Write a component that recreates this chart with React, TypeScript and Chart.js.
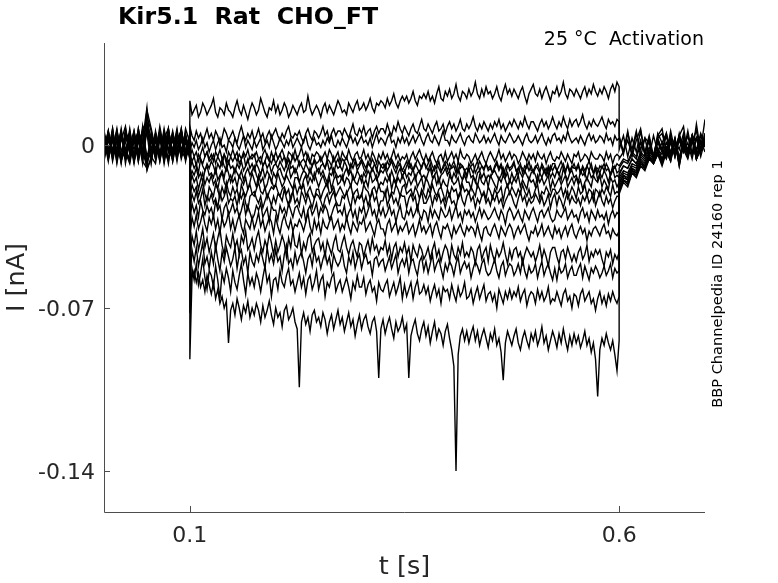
import { useEffect, useRef } from 'react'
import { Chart, registerables } from 'chart.js'

Chart.register(...registerables)

const FONT = '"DejaVu Sans", sans-serif'
const INK = '#000000'
const AXIS = '#4d4d4d'
const LABEL = '#262626'

const TITLE = 'Kir5.1  Rat  CHO_FT'
const CONDITION = '25 °C  Activation'
const SOURCE = 'BBP Channelpedia ID 24160 rep 1'

// sample clock of the traces: 5 ms outside the step, 2.5 ms during the step (0.1 s .. 0.6 s)
const DT_OUT = 0.005
const DT_STEP = 0.0025
const T_ON = 0.1
const T_OFF = 0.6
const PRE_N = 21
const STEP_N = 201
const POST_N = 21

const X_MIN = 0
const X_MAX = 0.7
const Y_MIN = -0.1576
const Y_MAX = 0.0438
const X_TICKS = [0.1, 0.6]
const X_TICK_LABELS = ['0.1', '0.6']
const Y_TICKS = [-0.14, -0.07, 0]
const Y_TICK_LABELS = ['-0.14', '-0.07', '0']

// currents in pA: 21 samples before, 201 during, 21 after the step
const I_01 = [
  5, -3, 7, -6, 2, 8, -4, 3, -7, 6, 9, -2, 5, -6, 3, 7, -5, 2, 6, -3, 4,
  19, 13, 15, 17, 12, 14, 18, 16, 13, 15,
  17, 20, 14, 12, 16, 15, 13, 18, 15, 14,
  12, 16, 19, 15, 13, 17, 14, 11, 15, 18,
  16, 13, 15, 20, 17, 14, 12, 16, 15, 19,
  14, 17, 13, 15, 18, 16, 12, 14, 17, 15,
  13, 16, 18, 14, 15, 21, 16, 13, 15, 17,
  15, 12, 16, 18, 14, 17, 15, 13, 16, 19,
  17, 14, 15, 13, 18, 16, 14, 17, 19, 15,
  16, 18, 15, 17, 20, 16, 14, 18, 17, 19,
  18, 16, 20, 17, 19, 22, 18, 16, 19, 21,
  19, 21, 18, 20, 23, 19, 17, 21, 20, 22,
  20, 23, 19, 21, 18, 22, 25, 20, 19, 23,
  21, 24, 20, 22, 26, 21, 19, 23, 22, 20,
  24, 21, 23, 27, 22, 20, 24, 21, 25, 22,
  23, 20, 22, 25, 21, 19, 23, 26, 22, 24,
  21, 24, 22, 20, 23, 25, 21, 18, 22, 24,
  26, 22, 21, 24, 20, 23, 25, 22, 19, 23,
  22, 25, 21, 23, 27, 22, 20, 24, 23, 21,
  24, 22, 20, 23, 25, 21, 24, 22, 26, 23,
  21, 24, 22, 25, 23, 20, 24, 26, 23, 27,
  25,
  4, -3, 6, -5, 2, 7, -4, 3, -6, 5, 1, -4, 6, -3, 4, 8, -5, 2, 6, -3, 5,
]
const I_02 = [
  -2, 6, -5, 3, -8, 5, 1, -6, 7, -3, 12, 6, -4, 8, -2, -7, 5, -3, 6, -5, 2,
  8, 4, 2, 6, 3, 5, 1, 4, 7, 3,
  5, 2, 6, 4, 0, 3, 7, 5, 2, 4,
  6, 3, 1, 5, 8, 4, 2, 5, 3, 6,
  2, 4, 7, 3, 5, 1, 4, 6, 3, 5,
  7, 4, 2, 5, 3, 6, 8, 4, 3, 5,
  4, 6, 3, 1, 5, 7, 4, 2, 6, 5,
  3, 5, 8, 4, 6, 2, 5, 7, 4, 6,
  6, 4, 7, 5, 3, 6, 9, 5, 4, 7,
  5, 8, 4, 6, 7, 3, 6, 8, 5, 7,
  7, 5, 9, 6, 4, 8, 6, 10, 7, 5,
  8, 6, 4, 7, 9, 6, 5, 8, 11, 7,
  6, 9, 7, 5, 8, 10, 6, 7, 9, 5,
  8, 10, 7, 9, 6, 8, 11, 7, 6, 9,
  7, 9, 12, 8, 6, 9, 7, 10, 8, 6,
  9, 7, 10, 8, 11, 7, 9, 6, 8, 10,
  8, 11, 9, 7, 10, 8, 12, 9, 7, 10,
  10, 8, 6, 9, 11, 8, 10, 7, 9, 12,
  9, 7, 10, 8, 12, 9, 7, 11, 8, 10,
  11, 8, 10, 13, 9, 7, 10, 8, 11, 9,
  8, 10, 12, 9, 7, 11, 9, 10, 8, 11,
  10,
  3, -4, 5, -2, 6, -5, 3, 1, -6, 4, 7, -3, 2, -5, 5, -2, 4, -4, 9, -3, 3,
]
const I_03 = [
  3, -6, 2, -4, 7, -5, 0, 6, -7, 2, -9, 3, -5, 5, -8, 3, -2, 7, -6, 1, -3,
  -3, 1, -1, 2, -2, 0, 3, -1, 1, -3,
  0, 2, -2, 1, 3, -1, 0, -3, 2, 1,
  -1, 3, 0, -2, 1, 4, -1, 2, 0, -2,
  2, -1, 1, 3, -2, 0, 2, -1, 4, 1,
  -2, 0, 3, 1, -1, 2, 0, 3, -1, 1,
  3, 1, -1, 2, 4, 0, -2, 1, 3, 0,
  1, -1, 2, 0, 3, 1, 4, 0, -1, 2,
  0, 3, 1, -1, 2, 4, 1, 3, 0, 2,
  4, 1, 2, 0, 3, -1, 2, 5, 1, 3,
  2, 0, 3, 5, 1, 2, -1, 3, 1, 4,
  1, 3, 0, 2, 4, 1, 3, 5, 2, 0,
  3, 5, 2, 1, 4, 2, 0, 3, 6, 2,
  2, 0, 4, 2, 1, 3, 5, 2, 0, 3,
  4, 2, 1, 5, 3, 1, 2, 4, 1, 3,
  1, 3, 5, 2, 0, 4, 2, 1, 3, 5,
  3, 1, 2, 4, 2, 0, 3, 5, 2, 1,
  2, 4, 1, 3, 5, 2, 0, 3, 1, 4,
  5, 2, 3, 1, 4, 2, 6, 3, 1, 2,
  3, 1, 4, 2, 0, 3, 5, 2, 4, 1,
  2, 4, 3, 1, 5, 2, 3, 0, 4, 2,
  3,
  -2, 4, -5, 3, -3, 6, -4, 2, -6, 3, 5, -2, 4, -5, 2, -3, 6, -4, 3, -2, 11,
]
const I_04 = [
  -4, 5, -7, 2, -2, -6, 6, -5, 3, -8, 7, -3, 2, -7, 5, -2, -6, 4, -5, 7, 1,
  -6, -2, -5, -3, -7, -4, -1, -5, -3, -6,
  -4, -7, -3, -5, -2, -6, -4, -8, -3, -5,
  -2, -5, -7, -4, -6, -3, -5, -2, -6, -4,
  -5, -3, -6, -8, -4, -2, -5, -7, -3, -6,
  -3, -6, -4, -2, -5, -7, -3, -4, -6, -2,
  -6, -4, -1, -5, -3, -6, -8, -4, -5, -3,
  -4, -7, -5, -3, -6, -2, -4, -7, -5, -3,
  -7, -3, -5, -6, -2, -5, -7, -4, -3, -6,
  -5, -2, -6, -4, -7, -3, -5, -8, -4, -6,
  -3, -6, -4, -7, -5, -2, -6, -4, -7, -5,
  -6, -4, -8, -5, -3, -6, -4, -2, -5, -7,
  -4, -7, -5, -3, -6, -8, -5, -4, -7, -3,
  -7, -5, -3, -6, -4, -7, -2, -5, -6, -4,
  -5, -8, -6, -4, -7, -5, -3, -6, -8, -5,
  -3, -5, -7, -5, -2, -6, -4, -7, -5, -3,
  -6, -4, -5, -8, -6, -3, -5, -7, -4, -6,
  -4, -7, -3, -5, -6, -4, -8, -5, -3, -6,
  -7, -5, -6, -3, -5, -7, -4, -6, -8, -4,
  -5, -3, -7, -6, -4, -5, -7, -3, -5, -6,
  -6, -4, -5, -7, -3, -6, -4, -8, -5, -4,
  -5,
  -6, -3, 2, -4, 5, -2, 3, -5, 4, -3, 1, 5, -4, 2, -6, 3, -2, 4, -5, 2, -3,
]
const I_05 = [
  2, -5, 6, -8, 3, -2, -7, 5, -3, 6, -11, -5, 3, -6, 2, -8, 5, -3, 7, -5, -2,
  -11, -7, -10, -8, -12, -6, -9, -11, -8, -10,
  -7, -9, -12, -8, -10, -6, -9, -11, -7, -10,
  -9, -12, -8, -10, -7, -11, -9, -6, -10, -8,
  -11, -8, -10, -13, -9, -7, -10, -8, -12, -9,
  -8, -10, -7, -9, -11, -8, -6, -10, -9, -12,
  -10, -7, -9, -11, -8, -10, -12, -9, -7, -10,
  -12, -9, -8, -10, -7, -11, -9, -13, -8, -10,
  -9, -11, -7, -9, -12, -8, -10, -7, -11, -9,
  -7, -10, -12, -8, -9, -11, -8, -10, -13, -9,
  -10, -8, -11, -9, -7, -10, -12, -9, -8, -11,
  -12, -9, -7, -10, -11, -8, -10, -12, -9, -7,
  -9, -11, -8, -12, -9, -10, -7, -11, -10, -8,
  -11, -8, -10, -9, -12, -7, -10, -9, -11, -13,
  -8, -10, -12, -9, -7, -11, -9, -10, -8, -11,
  -10, -12, -9, -7, -10, -8, -11, -13, -9, -10,
  -9, -7, -11, -10, -8, -12, -9, -10, -7, -11,
  -11, -9, -10, -12, -8, -10, -13, -9, -11, -8,
  -8, -11, -9, -7, -10, -12, -8, -11, -9, -10,
  -10, -8, -12, -9, -11, -9, -7, -10, -12, -9,
  -12, -9, -10, -8, -11, -10, -13, -9, -10, -8,
  -9,
  -9, -6, -7, -3, -5, 2, -4, 3, -6, 1, -3, 4, -5, 2, -2, 5, -4, 1, 3, -5, 2,
]
const I_06 = [
  -5, 3, -2, 7, -6, 1, 5, -7, 2, -4, 8, -5, -8, 3, -2, 6, -7, 2, -5, 4, -6,
  -15, -11, -13, -10, -14, -12, -16, -11, -9, -13,
  -12, -14, -10, -15, -13, -11, -14, -9, -12, -16,
  -13, -10, -12, -14, -11, -15, -12, -10, -13, -11,
  -9, -13, -15, -12, -10, -14, -11, -13, -16, -12,
  -14, -11, -10, -13, -15, -12, -9, -14, -12, -10,
  -12, -16, -13, -11, -12, -14, -10, -13, -15, -11,
  -10, -13, -11, -14, -16, -12, -13, -10, -12, -14,
  -13, -15, -12, -10, -13, -11, -15, -14, -11, -13,
  -16, -12, -14, -11, -13, -10, -12, -15, -13, -11,
  -12, -10, -13, -15, -11, -14, -16, -12, -10, -14,
  -11, -14, -12, -13, -10, -15, -12, -11, -14, -13,
  -15, -12, -10, -14, -13, -11, -16, -13, -12, -10,
  -13, -11, -15, -12, -14, -10, -13, -15, -11, -14,
  -10, -14, -13, -16, -12, -11, -14, -12, -15, -13,
  -14, -12, -11, -13, -15, -13, -10, -14, -12, -16,
  -12, -15, -13, -10, -12, -14, -11, -13, -15, -12,
  -11, -13, -16, -12, -14, -11, -13, -10, -14, -12,
  -14, -11, -12, -15, -10, -13, -15, -12, -11, -14,
  -13, -16, -11, -13, -12, -15, -11, -14, -13, -10,
  -15, -12, -14, -11, -13, -16, -12, -10, -14, -13,
  -14,
  -12, -9, -10, -6, -8, -4, -6, -2, -5, 2, -3, -6, 1, -4, 3, -2, -6, 2, -3, 4, -1,
]
const I_07 = [
  6, -2, 4, -6, 5, -3, -8, 2, -5, 7, 10, 3, -4, 6, -5, 2, -7, 5, -2, -6, 3,
  -18, -13, -16, -14, -19, -15, -12, -17, -14, -16,
  -13, -17, -15, -19, -14, -12, -16, -18, -15, -13,
  -16, -14, -18, -13, -15, -17, -14, -19, -16, -12,
  -15, -18, -13, -16, -14, -19, -17, -13, -15, -18,
  -17, -12, -15, -18, -16, -13, -15, -17, -19, -14,
  -14, -16, -19, -15, -13, -17, -14, -16, -12, -15,
  -18, -15, -13, -16, -18, -14, -19, -15, -13, -17,
  -16, -13, -17, -14, -15, -18, -13, -16, -17, -14,
  -13, -17, -15, -18, -12, -16, -15, -13, -18, -16,
  -17, -14, -16, -13, -19, -15, -17, -14, -16, -13,
  -15, -18, -14, -17, -15, -13, -18, -16, -14, -19,
  -14, -16, -19, -15, -13, -17, -14, -18, -15, -17,
  -18, -13, -15, -17, -16, -14, -19, -15, -13, -16,
  -16, -19, -14, -15, -18, -13, -16, -17, -14, -18,
  -13, -15, -17, -19, -14, -16, -13, -15, -18, -15,
  -17, -14, -16, -13, -18, -15, -17, -19, -14, -16,
  -15, -18, -13, -16, -14, -17, -15, -13, -19, -15,
  -18, -16, -14, -17, -15, -13, -18, -16, -14, -17,
  -14, -17, -15, -19, -16, -14, -16, -18, -13, -15,
  -16, -13, -18, -15, -17, -19, -14, -16, -15, -18,
  -16,
  -13, -9, -10, -6, -8, -3, -5, -1, -4, 3, -2, -5, 2, -3, 4, -1, -5, 3, -2, 5, 0,
]
const I_08 = [
  -6, 2, -4, 6, -7, 3, 1, -5, 7, -2, -10, 5, -6, 2, -3, 7, -5, 1, 6, -7, 2,
  -23, -17, -20, -18, -22, -19, -16, -21, -24, -18,
  -20, -22, -17, -19, -23, -18, -21, -16, -20, -22,
  -18, -21, -19, -24, -17, -20, -22, -19, -17, -21,
  -22, -19, -16, -20, -21, -18, -23, -20, -18, -19,
  -17, -20, -22, -19, -18, -21, -19, -24, -20, -17,
  -21, -18, -19, -17, -22, -20, -18, -21, -23, -19,
  -19, -23, -20, -18, -16, -21, -20, -18, -22, -20,
  -18, -20, -22, -21, -19, -17, -22, -20, -19, -23,
  -22, -17, -19, -20, -23, -19, -18, -21, -17, -20,
  -20, -22, -18, -23, -20, -21, -17, -19, -22, -18,
  -17, -21, -20, -19, -22, -18, -20, -23, -19, -21,
  -23, -19, -21, -17, -20, -22, -19, -18, -21, -24,
  -19, -22, -18, -20, -19, -23, -21, -17, -20, -19,
  -21, -18, -20, -22, -17, -19, -22, -20, -23, -18,
  -20, -23, -19, -21, -20, -18, -24, -19, -17, -21,
  -18, -20, -22, -19, -21, -17, -20, -22, -19, -23,
  -22, -19, -17, -23, -20, -21, -18, -20, -22, -19,
  -19, -21, -20, -18, -22, -19, -23, -21, -18, -20,
  -23, -18, -21, -20, -17, -22, -19, -20, -24, -19,
  -20, -22, -19, -21, -18, -20, -22, -17, -21, -20,
  -21,
  -14, -11, -12, -8, -9, -5, -7, -3, -5, -1, -6, -2, 2, -5, 4, -3, 1, -6, 3, -2, 5,
]
const I_09 = [
  3, -7, 5, -2, 6, -5, 2, -8, 4, -3, 15, 7, -2, 5, -6, 3, -4, 6, -5, 2, -6,
  -27, -21, -24, -20, -25, -23, -19, -26, -22, -24,
  -21, -25, -23, -27, -20, -24, -22, -19, -25, -23,
  -24, -22, -26, -21, -23, -20, -25, -28, -22, -21,
  -20, -23, -25, -22, -27, -24, -21, -23, -26, -22,
  -25, -21, -22, -24, -19, -23, -26, -22, -20, -25,
  -23, -26, -20, -22, -25, -21, -24, -27, -23, -21,
  -22, -24, -27, -23, -21, -25, -22, -20, -24, -26,
  -26, -22, -23, -20, -24, -27, -21, -25, -22, -23,
  -21, -25, -22, -26, -23, -20, -24, -22, -27, -24,
  -24, -20, -26, -23, -21, -25, -23, -26, -21, -22,
  -22, -27, -23, -21, -24, -22, -28, -23, -20, -25,
  -25, -23, -21, -26, -22, -24, -21, -25, -23, -27,
  -23, -21, -25, -24, -27, -22, -20, -24, -26, -22,
  -20, -24, -22, -27, -23, -25, -22, -21, -25, -23,
  -26, -22, -24, -21, -25, -23, -27, -24, -22, -20,
  -22, -25, -27, -23, -20, -24, -22, -26, -23, -25,
  -24, -21, -23, -25, -22, -26, -24, -21, -27, -23,
  -21, -26, -22, -24, -27, -23, -20, -25, -22, -24,
  -25, -23, -26, -22, -24, -21, -25, -23, -20, -26,
  -23, -20, -24, -26, -22, -25, -23, -27, -24, -22,
  -22,
  -15, -12, -13, -9, -10, -6, -8, -4, -6, -2, -4, 1, -3, 3, -6, 2, -2, 4, -5, 1, 3,
]
const I_10 = [
  -5, 6, -3, 2, -7, 5, -2, 4, -6, 8, -7, -3, 5, -7, 3, -2, 6, -5, 2, -4, 5,
  -33, -25, -29, -26, -31, -24, -28, -30, -26, -29,
  -27, -31, -24, -28, -26, -32, -27, -25, -30, -28,
  -25, -29, -27, -31, -28, -24, -30, -26, -29, -32,
  -30, -26, -28, -25, -31, -29, -27, -33, -26, -28,
  -28, -32, -26, -29, -27, -30, -25, -28, -31, -27,
  -26, -29, -31, -27, -33, -28, -26, -30, -28, -25,
  -31, -27, -29, -26, -28, -32, -30, -27, -25, -29,
  -28, -30, -26, -32, -29, -27, -31, -28, -33, -27,
  -29, -26, -31, -28, -25, -30, -28, -32, -27, -30,
  -27, -31, -29, -26, -30, -28, -33, -29, -26, -31,
  -32, -28, -30, -27, -31, -29, -26, -30, -32, -28,
  -29, -33, -27, -31, -28, -30, -32, -27, -29, -31,
  -30, -27, -32, -29, -26, -31, -29, -33, -28, -30,
  -28, -31, -29, -33, -30, -27, -31, -28, -30, -32,
  -31, -29, -27, -30, -32, -28, -30, -34, -29, -27,
  -29, -32, -30, -28, -31, -33, -28, -30, -32, -29,
  -27, -30, -33, -29, -28, -31, -29, -27, -31, -33,
  -32, -28, -30, -31, -29, -27, -32, -30, -28, -31,
  -30, -33, -29, -27, -31, -29, -33, -28, -30, -32,
  -28, -31, -30, -32, -29, -34, -30, -28, -31, -29,
  -30,
  -16, -13, -14, -10, -11, -7, -9, -5, -7, -3, -6, -1, -4, 2, -7, 1, -3, 3, -6, -1, 2,
]
const I_11 = [
  2, -4, 7, -6, 3, -2, 5, -7, 1, 6, -5, 2, -6, 4, -3, 7, -5, 2, -2, 5, -5,
  -40, -31, -35, -30, -36, -33, -29, -34, -37, -31,
  -34, -30, -36, -32, -38, -31, -35, -33, -29, -36,
  -32, -37, -33, -30, -35, -38, -32, -34, -36, -31,
  -36, -33, -29, -35, -32, -37, -34, -31, -33, -38,
  -31, -35, -38, -33, -30, -34, -36, -32, -37, -34,
  -35, -32, -34, -37, -33, -29, -35, -38, -32, -36,
  -33, -38, -32, -35, -36, -33, -31, -36, -34, -32,
  -37, -34, -36, -31, -35, -38, -33, -35, -37, -33,
  -34, -31, -37, -35, -33, -36, -39, -34, -32, -36,
  -36, -39, -34, -32, -37, -35, -33, -38, -35, -37,
  -35, -33, -38, -36, -34, -39, -36, -32, -37, -35,
  -38, -36, -34, -39, -35, -33, -37, -40, -35, -36,
  -34, -37, -40, -35, -38, -36, -34, -37, -39, -35,
  -37, -35, -36, -39, -34, -38, -41, -36, -35, -38,
  -39, -36, -34, -37, -40, -35, -37, -39, -36, -34,
  -36, -40, -37, -35, -38, -36, -34, -38, -41, -37,
  -38, -35, -39, -37, -34, -39, -37, -35, -38, -40,
  -35, -38, -36, -40, -37, -35, -39, -36, -34, -38,
  -40, -37, -35, -38, -36, -41, -37, -39, -36, -35,
  -37, -39, -36, -34, -38, -37, -40, -36, -38, -39,
  -37,
  -17, -13, -15, -10, -12, -7, -9, -5, -8, -3, -7, -2, -5, 1, -8, 2, -3, 3, -6, -1, 3,
]
const I_12 = [
  -2, 5, -6, 3, -5, 7, -3, 1, 6, -7, -10, -6, 2, -5, 6, -3, 4, -7, 5, -2, 1,
  -50, -39, -43, -37, -45, -41, -36, -44, -40, -46,
  -42, -38, -45, -40, -36, -43, -47, -39, -42, -44,
  -38, -44, -41, -47, -39, -42, -37, -45, -43, -40,
  -45, -40, -37, -43, -46, -41, -44, -38, -42, -47,
  -41, -46, -43, -39, -42, -48, -40, -44, -37, -43,
  -44, -39, -47, -42, -45, -40, -38, -46, -43, -41,
  -40, -45, -42, -48, -41, -44, -47, -42, -39, -45,
  -46, -42, -39, -44, -47, -43, -41, -45, -48, -42,
  -43, -48, -44, -41, -46, -40, -45, -43, -47, -44,
  -45, -41, -47, -43, -49, -44, -42, -48, -44, -46,
  -42, -47, -44, -50, -43, -46, -48, -43, -45, -49,
  -47, -44, -49, -45, -42, -48, -45, -50, -46, -43,
  -45, -50, -43, -47, -49, -44, -47, -42, -48, -46,
  -48, -44, -46, -51, -45, -43, -49, -46, -44, -50,
  -43, -47, -50, -45, -48, -46, -42, -47, -51, -45,
  -49, -45, -44, -48, -46, -51, -47, -44, -46, -48,
  -46, -50, -47, -43, -49, -45, -48, -52, -46, -44,
  -44, -48, -51, -46, -45, -49, -44, -47, -50, -47,
  -50, -46, -44, -49, -47, -43, -50, -46, -48, -45,
  -47, -45, -49, -52, -46, -48, -45, -51, -47, -49,
  -46,
  -18, -14, -15, -11, -12, -8, -9, -5, -7, -3, -7, -1, -6, 2, -8, 1, -4, 4, -6, -1, 2,
]
const I_13 = [
  5, -6, 2, -3, 6, -8, 3, -2, 5, -5, 7, 2, -5, 3, -7, 5, -3, 1, 6, -6, 2,
  -60, -45, -50, -44, -52, -47, -42, -51, -48, -53,
  -46, -51, -43, -49, -54, -46, -50, -44, -48, -52,
  -49, -44, -53, -47, -45, -51, -48, -55, -46, -50,
  -52, -47, -50, -45, -49, -53, -44, -50, -47, -51,
  -45, -50, -48, -54, -47, -43, -51, -49, -53, -46,
  -51, -48, -46, -50, -55, -49, -47, -52, -45, -50,
  -48, -53, -49, -46, -51, -48, -54, -47, -50, -52,
  -50, -46, -52, -55, -48, -51, -46, -53, -49, -47,
  -53, -49, -47, -51, -50, -56, -49, -48, -52, -50,
  -49, -54, -51, -48, -53, -50, -47, -55, -51, -49,
  -52, -48, -55, -50, -49, -53, -56, -50, -48, -54,
  -50, -55, -51, -47, -54, -51, -49, -53, -57, -51,
  -54, -50, -52, -56, -51, -48, -55, -52, -50, -53,
  -51, -57, -53, -50, -52, -55, -51, -49, -54, -56,
  -55, -52, -49, -54, -57, -52, -50, -56, -53, -51,
  -52, -56, -54, -51, -55, -49, -54, -57, -52, -55,
  -54, -51, -57, -53, -50, -56, -53, -51, -55, -58,
  -53, -58, -52, -55, -54, -51, -57, -54, -52, -56,
  -56, -53, -51, -57, -52, -55, -58, -53, -55, -52,
  -54, -57, -55, -52, -56, -54, -51, -57, -53, -55,
  -54,
  -19, -15, -16, -11, -13, -8, -10, -5, -8, -3, -8, -2, -6, 2, -7, 1, -3, 4, -5, -2, 2,
]
const I_14 = [
  -3, 6, -5, 2, -7, 3, 5, -6, 2, -3, -8, 3, -2, 6, -5, 2, -6, 5, -3, 4, -2,
  -72, -53, -58, -51, -60, -55, -49, -57, -62, -54,
  -56, -61, -52, -58, -66, -55, -59, -53, -57, -63,
  -54, -59, -62, -56, -51, -58, -64, -55, -60, -57,
  -61, -55, -58, -63, -57, -52, -59, -56, -65, -58,
  -57, -62, -54, -59, -61, -56, -53, -60, -58, -63,
  -59, -55, -61, -57, -64, -58, -56, -62, -59, -54,
  -62, -58, -56, -65, -59, -61, -57, -55, -63, -60,
  -58, -63, -60, -57, -61, -66, -59, -62, -56, -61,
  -61, -57, -64, -60, -58, -63, -61, -67, -59, -62,
  -63, -60, -58, -65, -62, -59, -64, -61, -57, -66,
  -60, -65, -62, -59, -66, -61, -58, -64, -63, -60,
  -64, -61, -67, -63, -60, -65, -62, -68, -61, -63,
  -62, -66, -60, -64, -67, -61, -65, -63, -59, -66,
  -65, -62, -68, -64, -61, -66, -63, -60, -67, -64,
  -63, -67, -64, -70, -62, -65, -68, -63, -66, -62,
  -66, -63, -65, -61, -67, -64, -62, -69, -65, -63,
  -64, -68, -62, -66, -63, -67, -65, -61, -68, -66,
  -67, -63, -66, -69, -64, -62, -67, -65, -70, -64,
  -65, -69, -64, -62, -67, -65, -63, -68, -66, -71,
  -66, -63, -68, -65, -69, -64, -67, -63, -66, -68,
  -65,
  -20, -15, -17, -12, -13, -9, -10, -6, -8, -4, -8, -2, -7, 2, -9, 1, -5, 3, -6, -1, 2,
]
const I_15 = [
  2, -5, 3, -7, 5, -2, -6, 6, -3, 2, 16, -7, 3, -5, 7, -3, 2, -6, 3, -5, 3,
  -92, -57, -54, -59, -55, -61, -58, -63, -56, -60,
  -64, -59, -66, -62, -68, -65, -70, -67, -85, -71,
  -68, -73, -66, -70, -75, -69, -72, -67, -74, -70,
  -73, -68, -71, -76, -69, -74, -71, -67, -73, -77,
  -70, -74, -72, -78, -71, -69, -75, -73, -70, -76,
  -79, -104, -76, -72, -77, -74, -80, -73, -71, -76,
  -74, -78, -72, -75, -81, -76, -73, -79, -75, -71,
  -77, -74, -80, -76, -72, -78, -75, -82, -77, -73,
  -79, -75, -73, -78, -81, -76, -74, -80, -100, -79,
  -75, -81, -77, -74, -79, -83, -76, -80, -78, -74,
  -80, -77, -100, -82, -78, -75, -81, -84, -79, -76,
  -82, -78, -85, -80, -76, -83, -79, -81, -86, -80,
  -77, -83, -88, -95, -140, -90, -82, -79, -84, -80,
  -85, -81, -78, -84, -80, -86, -82, -79, -83, -87,
  -81, -84, -79, -86, -83, -89, -101, -85, -80, -83,
  -86, -82, -79, -85, -88, -83, -80, -84, -87, -81,
  -84, -80, -86, -83, -78, -85, -82, -88, -84, -80,
  -83, -87, -81, -85, -79, -84, -88, -82, -86, -81,
  -85, -82, -87, -84, -80, -86, -83, -89, -85, -92,
  -108, -88, -83, -86, -81, -85, -88, -84, -90, -97,
  -84,
  -21, -16, -18, -12, -14, -9, -11, -6, -8, -4, -9, -3, -7, 2, -9, 1, -5, 3, -6, -2, 1,
]
const I_16 = [
  -7, 3, -3, 6, -2, -5, 7, -6, 3, 1, 5, -8, 6, -3, 2, -6, 3, -2, 7, -5, 2,
  -3, -7, -5, -9, -4, -6, -8, -5, -3, -7,
  -6, -4, -8, -5, -7, -9, -4, -6, -8, -5,
  -7, -5, -3, -8, -6, -4, -9, -7, -5, -6,
  -4, -8, -6, -5, -9, -7, -4, -6, -8, -5,
  -8, -6, -4, -7, -5, -9, -6, -8, -4, -7,
  -5, -9, -7, -6, -8, -4, -7, -9, -6, -8,
  -7, -5, -8, -10, -6, -7, -9, -5, -8, -6,
  -9, -6, -7, -5, -8, -10, -7, -6, -9, -8,
  -6, -8, -10, -7, -9, -6, -8, -11, -7, -9,
  -8, -10, -7, -9, -6, -8, -10, -7, -9, -11,
  -9, -7, -10, -8, -11, -9, -6, -8, -10, -7,
  -10, -8, -6, -9, -11, -8, -10, -12, -9, -7,
  -8, -11, -9, -7, -10, -12, -8, -9, -11, -10,
  -11, -9, -8, -12, -10, -7, -9, -11, -8, -10,
  -9, -12, -10, -8, -11, -9, -13, -10, -8, -11,
  -10, -8, -11, -13, -9, -10, -12, -8, -11, -9,
  -12, -10, -8, -11, -9, -12, -10, -13, -9, -11,
  -9, -11, -13, -10, -8, -11, -9, -12, -10, -8,
  -11, -9, -12, -10, -13, -9, -11, -8, -12, -10,
  -10, -12, -9, -11, -8, -10, -13, -11, -9, -12,
  -11,
  -10, -7, -8, -4, -6, 1, -3, 4, -5, 2, -2, 5, -4, 3, -6, 2, -3, 4, -5, 1, 3,
]

const TRACES = [I_01, I_02, I_03, I_04, I_05, I_06, I_07, I_08, I_09, I_10, I_11, I_12, I_13, I_14, I_15, I_16]

// times of the samples above; the step edges (0.1 s and 0.6 s) appear twice
function sampleTimes() {
  const t: number[] = []
  for (let j = 0; j < PRE_N; j++) t.push(j * DT_OUT)
  for (let k = 0; k < STEP_N; k++) t.push(T_ON + k * DT_STEP)
  for (let j = 0; j < POST_N; j++) t.push(T_OFF + j * DT_OUT)
  return t
}

const decorations = {
  id: 'decorations',
  afterDraw(chart) {
    const { ctx, chartArea, scales } = chart
    const { left, right, top, bottom } = chartArea
    ctx.save()
    // left and bottom axis lines with MATLAB-style inward ticks
    ctx.strokeStyle = AXIS
    ctx.lineWidth = 1
    ctx.beginPath()
    ctx.moveTo(left + 0.5, top)
    ctx.lineTo(left + 0.5, bottom + 0.5)
    ctx.lineTo(right, bottom + 0.5)
    Y_TICKS.forEach(v => {
      const y = Math.round(scales.y.getPixelForValue(v)) + 0.5
      ctx.moveTo(left, y)
      ctx.lineTo(left + 6, y)
    })
    X_TICKS.forEach(v => {
      const x = Math.round(scales.x.getPixelForValue(v)) + 0.5
      ctx.moveTo(x, bottom)
      ctx.lineTo(x, bottom - 6)
    })
    ctx.stroke()

    ctx.fillStyle = INK
    ctx.textBaseline = 'middle'
    ctx.textAlign = 'left'
    ctx.font = `bold 23.7px ${FONT}`
    ctx.fillText(TITLE, 118, 18)

    ctx.textAlign = 'right'
    ctx.font = `19px ${FONT}`
    ctx.fillText(CONDITION, right - 1, 40)

    ctx.translate(718, 284)
    ctx.rotate(-Math.PI / 2)
    ctx.textAlign = 'center'
    ctx.font = `14.6px ${FONT}`
    ctx.fillText(SOURCE, 0, 0)
    ctx.restore()
  },
}

export default function App() {
  const canvasRef = useRef<HTMLCanvasElement>(null)
  const chartRef = useRef<Chart | null>(null)

  useEffect(() => {
    if (!canvasRef.current) return
    const times = sampleTimes()

    chartRef.current = new Chart(canvasRef.current, {
      type: 'line',
      data: {
        datasets: TRACES.map(trace => ({
          data: times.map((x, i) => ({ x, y: trace[i] / 1000 })),
          borderColor: INK,
          borderWidth: 1.4,
          pointRadius: 0,
          tension: 0,
          fill: false,
        })),
      },
      options: {
        animation: false,
        responsive: false,
        layout: { padding: { top: 43, right: 73, left: 0, bottom: 0 } },
        plugins: {
          legend: { display: false },
          tooltip: { enabled: false },
        },
        scales: {
          x: {
            type: 'linear',
            min: X_MIN,
            max: X_MAX,
            afterBuildTicks: s => { s.ticks = X_TICKS.map(value => ({ value })) },
            afterFit: s => { s.height = 71 },
            grid: { display: false, drawTicks: false },
            border: { display: false },
            ticks: {
              color: LABEL,
              font: { family: FONT, size: 22 },
              padding: 11,
              maxRotation: 0,
              autoSkip: false,
              callback: (v, i) => X_TICK_LABELS[i],
            },
            title: {
              display: true,
              text: 't [s]',
              color: LABEL,
              font: { family: FONT, size: 25.5 },
              padding: { top: 0, bottom: 0 },
            },
          },
          y: {
            type: 'linear',
            min: Y_MIN,
            max: Y_MAX,
            afterBuildTicks: s => { s.ticks = Y_TICKS.map(value => ({ value })) },
            afterFit: s => { s.width = 104 },
            grid: { display: false, drawTicks: false },
            border: { display: false },
            ticks: {
              color: LABEL,
              font: { family: FONT, size: 22 },
              padding: 9,
              labelOffset: 2,
              autoSkip: false,
              callback: (v, i) => Y_TICK_LABELS[i],
            },
            title: {
              display: true,
              text: 'I [nA]',
              color: LABEL,
              font: { family: FONT, size: 25.5 },
              padding: { top: 2, bottom: 0 },
            },
          },
        },
      },
      plugins: [decorations],
    })

    return () => {
      chartRef.current?.destroy()
      chartRef.current = null
    }
  }, [])

  return (
    <div style={{ position: 'absolute', left: 0, top: 0, width: 778, height: 583, background: '#fff' }}>
      <canvas ref={canvasRef} width={778} height={583} />
    </div>
  )
}
